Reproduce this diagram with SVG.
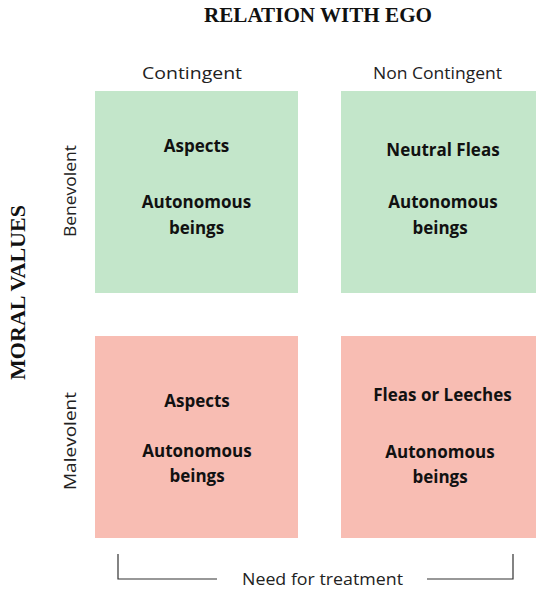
<svg xmlns="http://www.w3.org/2000/svg" width="536" height="590" viewBox="0 0 536 590">
<style>
.title{font-family:"Liberation Serif","DejaVu Serif",serif;font-weight:bold;font-size:20px;fill:#111}
.lab{font-family:"Open Sans","Liberation Sans",sans-serif;font-size:17px;fill:#222}
.bt{font-family:"Open Sans","Liberation Sans",sans-serif;font-weight:bold;font-size:17px;fill:#111;text-anchor:middle}
.green{fill:#c3e6ca}
.red{fill:#f8bdb3}
.ln{fill:none;stroke:#333;stroke-width:1.2}
</style>
<rect width="536" height="590" fill="#ffffff"/>
<g id="titles">
<text class="title" x="204" y="22" textLength="228" lengthAdjust="spacingAndGlyphs">RELATION WITH EGO</text>
<text class="title" transform="translate(25,380) rotate(-90)" x="0" y="0" textLength="175" lengthAdjust="spacingAndGlyphs">MORAL VALUES</text>
<text class="lab" x="142" y="79" textLength="100" lengthAdjust="spacingAndGlyphs">Contingent</text>
<text class="lab" x="373" y="79" textLength="129" lengthAdjust="spacingAndGlyphs">Non Contingent</text>
<text class="lab" transform="translate(76,237) rotate(-90)" x="0" y="0" textLength="92" lengthAdjust="spacingAndGlyphs">Benevolent</text>
<text class="lab" transform="translate(76,490) rotate(-90)" x="0" y="0" textLength="98" lengthAdjust="spacingAndGlyphs">Malevolent</text>
</g>
<g id="node-benevolent-contingent">
<rect class="green" x="95" y="91" width="203" height="202"/>
<text class="bt" x="196.5" y="152">Aspects</text>
<text class="bt" x="196.5" y="208">Autonomous</text>
<text class="bt" x="196.5" y="234">beings</text>
</g>
<g id="node-benevolent-noncontingent">
<rect class="green" x="341" y="91" width="200" height="202"/>
<text class="bt" x="443" y="156">Neutral Fleas</text>
<text class="bt" x="443" y="208">Autonomous</text>
<text class="bt" x="440" y="234">beings</text>
</g>
<g id="node-malevolent-contingent">
<rect class="red" x="95" y="336" width="203" height="202"/>
<text class="bt" x="197" y="407">Aspects</text>
<text class="bt" x="197" y="457">Autonomous</text>
<text class="bt" x="197" y="482">beings</text>
</g>
<g id="node-malevolent-noncontingent">
<rect class="red" x="341" y="336" width="200" height="202"/>
<text class="bt" x="442.5" y="401">Fleas or Leeches</text>
<text class="bt" x="440" y="458">Autonomous</text>
<text class="bt" x="440" y="483">beings</text>
</g>
<g id="connectors">
<path class="ln" d="M118,554 V579 H217"/>
<path class="ln" d="M427,579 H513 V554"/>
<text class="lab" x="242" y="585" textLength="161" lengthAdjust="spacingAndGlyphs">Need for treatment</text>
</g>
</svg>
